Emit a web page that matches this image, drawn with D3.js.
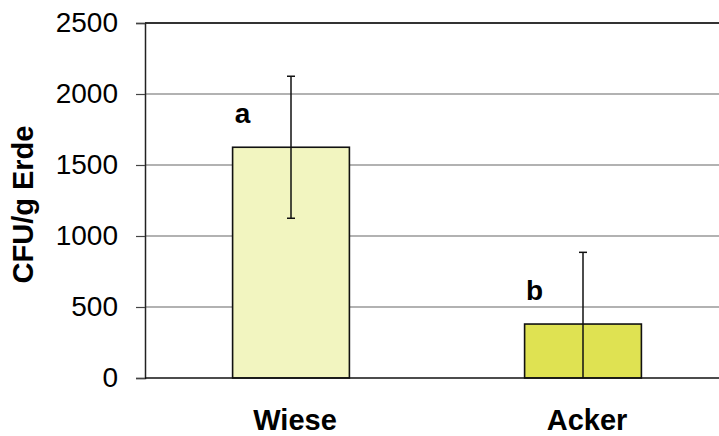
<!DOCTYPE html>
<html>
<head>
<meta charset="utf-8">
<script src="https://cdn.jsdelivr.net/npm/d3@7"></script>
<style>
  body { margin: 0; background: #fff; }
  text { font-family: "Liberation Sans", Arial, sans-serif; }
</style>
</head>
<body>
<svg id="chart"></svg>
<script>
// data
const categories = ['Wiese', 'Acker'];
const means = [1625, 380];
const errors = [500, 505];
const letters = ['a', 'b'];
const yTicks = [0, 500, 1000, 1500, 2000, 2500];
const barColors = ['#f2f5c0', '#dfe252'];

const width = 719, height = 436;
const margin = {top: 23, right: 0, bottom: 58, left: 145};
const innerW = width - margin.left - margin.right;
const innerH = height - margin.top - margin.bottom;

const svg = d3.select('#chart')
    .attr('width', width)
    .attr('height', height);

const chart = svg.append('g')
    .attr('transform', `translate(${margin.left},${margin.top})`);

const yScale = d3.scaleLinear()
    .domain([0, 2500])
    .range([innerH, 0]);

const xScale = d3.scaleBand()
    .domain(categories)
    .range([0, 584])
    .paddingInner(0.6)
    .paddingOuter(0.3);

// gridlines
chart.selectAll('.grid')
    .data(yTicks.filter(d => d > 0))
  .join('line')
    .attr('class', 'grid')
    .attr('x1', 0)
    .attr('x2', innerW)
    .attr('y1', d => yScale(d))
    .attr('y2', d => yScale(d))
    .attr('stroke', d => d === 2500 ? '#333' : '#666')
    .attr('stroke-width', d => d === 2500 ? 2 : 1.2);

// y axis
const yAxis = d3.axisLeft(yScale)
    .tickValues(yTicks)
    .tickFormat(d3.format('d'))
    .tickSize(9)
    .tickPadding(18);

const yAxisG = chart.append('g').call(yAxis);
yAxisG.select('.domain').attr('stroke', '#222').attr('stroke-width', 1.5);
yAxisG.selectAll('.tick line').attr('stroke', '#444').attr('stroke-width', 1.2);
yAxisG.selectAll('.tick text')
    .attr('font-size', '28px')
    .attr('fill', '#000')
    .style('font-family', '"Liberation Sans", Arial, sans-serif');

// bars
chart.selectAll('.bar')
    .data(categories)
  .join('rect')
    .attr('class', 'bar')
    .attr('x', d => xScale(d))
    .attr('width', xScale.bandwidth())
    .attr('y', (d, i) => yScale(means[i]))
    .attr('height', (d, i) => innerH - yScale(means[i]))
    .attr('fill', (d, i) => barColors[i])
    .attr('stroke', '#111')
    .attr('stroke-width', 1.6);

// baseline
chart.append('line')
    .attr('x1', 0)
    .attr('x2', innerW)
    .attr('y1', innerH)
    .attr('y2', innerH)
    .attr('stroke', '#111')
    .attr('stroke-width', 1.6);

// error bars
const cx = d => xScale(d) + xScale.bandwidth() / 2;
categories.forEach((c, i) => {
  const hi = means[i] + errors[i];
  const lo = Math.max(0, means[i] - errors[i]);
  chart.append('line')
      .attr('x1', cx(c)).attr('x2', cx(c))
      .attr('y1', yScale(hi)).attr('y2', yScale(lo))
      .attr('stroke', '#111').attr('stroke-width', 1.5);
  chart.append('line')
      .attr('x1', cx(c) - 4).attr('x2', cx(c) + 4)
      .attr('y1', yScale(hi)).attr('y2', yScale(hi))
      .attr('stroke', '#111').attr('stroke-width', 1.5);
  if (lo > 0) {
    chart.append('line')
        .attr('x1', cx(c) - 4).attr('x2', cx(c) + 4)
        .attr('y1', yScale(lo)).attr('y2', yScale(lo))
        .attr('stroke', '#111').attr('stroke-width', 1.5);
  }
});

// significance letters
chart.selectAll('.letter')
    .data(categories)
  .join('text')
    .attr('class', 'letter')
    .attr('x', d => xScale(d) + 10)
    .attr('y', (d, i) => yScale(means[i]) - 24)
    .attr('text-anchor', 'middle')
    .attr('font-size', '28px')
    .attr('font-weight', 'bold')
    .text((d, i) => letters[i]);

// category labels
chart.selectAll('.cat')
    .data(categories)
  .join('text')
    .attr('class', 'cat')
    .attr('x', d => cx(d) + 4)
    .attr('y', innerH + 52)
    .attr('text-anchor', 'middle')
    .attr('font-size', '29px')
    .attr('font-weight', 'bold')
    .text(d => d);

// y axis title
svg.append('text')
    .attr('transform', `translate(33,${margin.top + innerH / 2 + 4}) rotate(-90)`)
    .attr('text-anchor', 'middle')
    .attr('font-size', '29px')
    .attr('font-weight', 'bold')
    .text('CFU/g Erde');
</script>
</body>
</html>
